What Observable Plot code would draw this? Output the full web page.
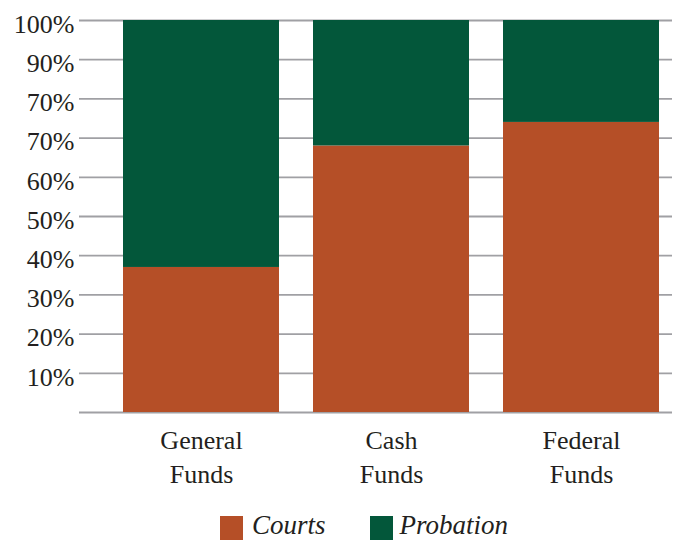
<!DOCTYPE html>
<html><head><meta charset="utf-8">
<script src="https://cdn.jsdelivr.net/npm/d3@7"></script>
<script src="https://cdn.jsdelivr.net/npm/@observablehq/plot@0.6"></script>
<style>
body{margin:0;background:#fff;font-family:"Liberation Serif",serif;color:#231f20;}
#wrap{position:relative;width:677px;height:540px;overflow:hidden;}
#legend{position:absolute;left:220px;top:511px;display:flex;align-items:flex-start;font-style:italic;font-size:27px;line-height:28px;}
#legend .sw{width:23px;height:29px;display:inline-block;margin-top:5px;}
#legend .item{display:flex;align-items:flex-start;}
</style></head><body><div id="wrap"><div id="chart"></div><div id="legend"></div></div>
<script>
const categories = ["General\nFunds", "Cash\nFunds", "Federal\nFunds"];
const series = ["Courts", "Probation"];
const courtsValues = [37, 68, 74];
const probationValues = [63, 32, 26];
const tickValues = [10, 20, 30, 40, 50, 60, 70, 80, 90, 100];
const tickLabels = ["10%", "20%", "30%", "40%", "50%", "60%", "70%", "70%", "90%", "100%"];
const colors = ["#b54f27", "#03573a"];

const rows = [];
categories.forEach((c, i) => {
  rows.push({cat: c, series: "Courts", value: courtsValues[i]});
  rows.push({cat: c, series: "Probation", value: probationValues[i]});
});

const chart = Plot.plot({
  width: 677,
  height: 500,
  marginLeft: 79,
  marginRight: 5,
  marginTop: 20,
  marginBottom: 88,
  style: {fontFamily: "Liberation Serif, serif", color: "#231f20", background: "#fff"},
  x: {domain: categories, range: [123, 659], paddingInner: 34 / 190, paddingOuter: 0, axis: null},
  y: {domain: [0, 100], axis: null},
  color: {domain: series, range: colors},
  marks: [
    Plot.ruleY([0, ...tickValues], {stroke: "#a0a0a4", strokeWidth: 1.8}),
    Plot.barY(rows, {x: "cat", y: "value", fill: "series", order: series}),
    Plot.text(tickValues, {y: d => d, text: (d, i) => tickLabels[i], frameAnchor: "left", textAnchor: "end", dx: -5, dy: 4, fontSize: 26, fill: "#231f20"}),
    Plot.axisX({tickSize: 0, tickPadding: 12, fontSize: 26, lineHeight: 1.31, fill: "#231f20", label: null})
  ]
});
document.getElementById("chart").appendChild(chart);

const legend = document.getElementById("legend");
series.forEach((s, i) => {
  const item = document.createElement("div");
  item.className = "item";
  item.style.marginRight = i === 0 ? "44px" : "0";
  const sw = document.createElement("span");
  sw.className = "sw";
  sw.style.background = colors[i];
  sw.style.marginRight = i === 0 ? "9px" : "7px";
  const t = document.createElement("span");
  t.textContent = s;
  item.appendChild(sw);
  item.appendChild(t);
  legend.appendChild(item);
});
</script></body></html>
